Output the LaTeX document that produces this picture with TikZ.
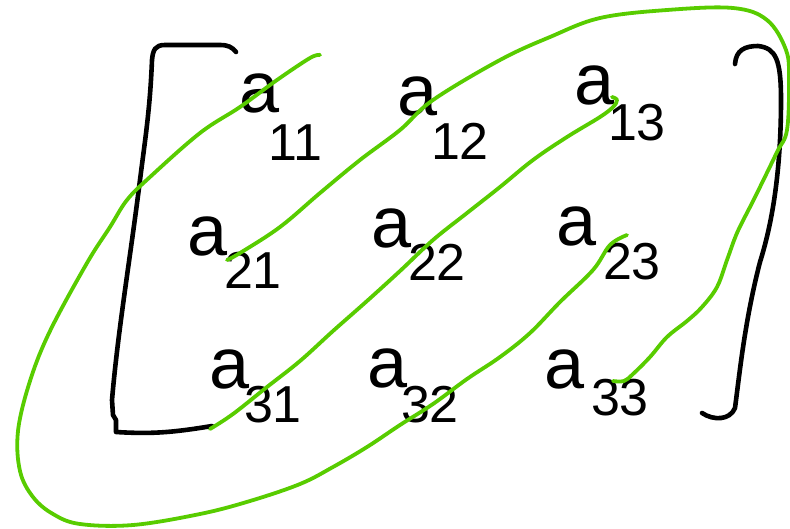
\documentclass[tikz,border=0pt]{standalone}
\usepackage{fontspec}
\setmainfont{Liberation Sans}
\begin{document}
\begin{tikzpicture}[x=1pt,y=-1pt,
  ink/.style={line width=4.6pt,black,line cap=round,line join=round},
  hl/.style={line width=3.8pt,color={rgb,255:red,88;green,204;blue,0},line cap=round,line join=round},
  letter/.style={inner sep=0pt,font=\fontsize{72}{72}\selectfont},
  idx/.style={inner sep=0pt,font=\fontsize{52}{52}\selectfont}]
\useasboundingbox (0,0) rectangle (790,528);
% entries
\node[letter] (a11) at (260,93) {a};   \node[idx] (s11) at (295,143) {11};
\node[letter] (a12) at (418,96) {a};   \node[idx] (s12) at (460,141) {12};
\node[letter] (a13) at (595,85) {a};   \node[idx] (s13) at (637,123) {13};
\node[letter] (a21) at (208,236) {a};  \node[idx] (s21) at (253,270) {21};
\node[letter] (a22) at (392,228) {a};  \node[idx] (s22) at (437,262) {22};
\node[letter] (a23) at (577,226) {a};  \node[idx] (s23) at (632,262) {23};
\node[letter] (a31) at (230,369) {a};  \node[idx] (s31) at (273,405) {31};
\node[letter] (a32) at (388,368) {a};  \node[idx] (s32) at (430,405) {32};
\node[letter] (a33) at (565,369) {a};  \node[idx] (s33) at (620,398) {33};
% brackets
\draw[ink] (236,52) .. controls (232,47) and (228,45) .. (220,45) -- (165,45)
  .. controls (155,45) and (153,50) .. (152,60)
  .. controls (150,110) and (145,140) .. (140,180)
  .. controls (130,260) and (118,330) .. (112,400)
  -- (113,415) -- (116,420) -- (116,432)
  .. controls (150,434) and (170,433) .. (212,426);
\draw[ink] (735,64) .. controls (736,50) and (745,46) .. (758,46)
  .. controls (776,48) and (781,60) .. (781,100)
  .. controls (781,180) and (770,230) .. (760,262)
  .. controls (745,320) and (740,370) .. (735,408)
  .. controls (730,420) and (714,421) .. (702,413);
% green strokes
\draw[hl] plot[smooth,tension=0.6] coordinates {(320,55) (310,58) (277,80) (240,107) (200,133) (150,177) (127,200) (110,227) (87,263) (50,331) (30,381) (18,431) (20,471) (33,497) (53,514) (80,524) (133,525) (200,514) (250,501) (300,484) (333,467) (367,447) (400,425) (433,404) (467,379) (500,357) (530,333) (560,302) (593,270) (610,245) (627,235)};
\draw[hl] plot[smooth,tension=0.6] coordinates {(227,260) (240,253) (280,227) (320,193) (360,160) (400,130) (433,100) (500,60) (550,37) (600,18) (667,10) (733,8) (767,20) (786,50) (789,80) (787,130) (777,152) (760,187) (750,207) (737,233) (727,260) (717,287) (702,307) (687,321) (667,337) (650,357) (633,374) (624,381) (613,381)};
\draw[hl] plot[smooth,tension=0.6] coordinates {(210,429) (233,414) (267,387) (300,361) (333,331) (367,301) (400,271) (433,240) (467,213) (500,187) (533,160) (567,137) (600,117) (613,107) (617,100) (612,97)};
\end{tikzpicture}
\end{document}
